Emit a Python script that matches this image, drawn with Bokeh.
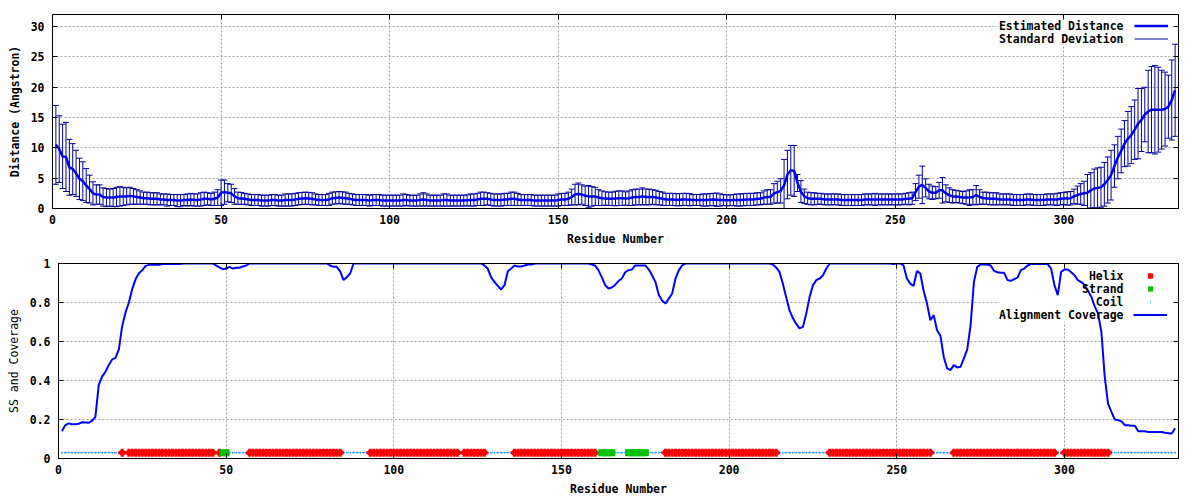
from bokeh.plotting import figure
from bokeh.models import (Range1d, FixedTicker, LinearAxis, Legend, LegendItem, Label,
                          BoxAnnotation, CustomJSTickFormatter, ColumnDataSource)
from bokeh.embed import file_html
from bokeh.resources import INLINE

# ---------------- data ----------------
residues = list(range(1, 334))

est_distance = [
    10.5, 9.8, 8.6, 8.5, 6.8, 6.5, 5.8, 4.9, 4.5, 3.8,
    3.2, 2.5, 2.3, 2.3, 1.9, 1.8, 1.8, 1.8, 1.9, 2.0,
    2.0, 2.0, 2.1, 2.0, 1.9, 1.8, 1.7, 1.7, 1.6, 1.6,
    1.6, 1.5, 1.5, 1.4, 1.4, 1.4, 1.3, 1.3, 1.4, 1.4,
    1.5, 1.4, 1.4, 1.5, 1.6, 1.6, 1.5, 1.6, 1.8, 2.6,
    2.7, 2.6, 2.5, 2.0, 1.7, 1.65, 1.6, 1.5, 1.4, 1.4,
    1.4, 1.3, 1.3, 1.3, 1.4, 1.4, 1.3, 1.3, 1.4, 1.4,
    1.4, 1.5, 1.6, 1.65, 1.7, 1.65, 1.6, 1.5, 1.4, 1.4,
    1.4, 1.5, 1.7, 1.75, 1.8, 1.75, 1.7, 1.6, 1.5, 1.4,
    1.4, 1.4, 1.4, 1.3, 1.4, 1.4, 1.4, 1.3, 1.3, 1.3,
    1.3, 1.3, 1.3, 1.4, 1.4, 1.3, 1.3, 1.3, 1.4, 1.5,
    1.4, 1.3, 1.3, 1.3, 1.3, 1.4, 1.4, 1.3, 1.3, 1.3,
    1.3, 1.3, 1.35, 1.4, 1.4, 1.5, 1.6, 1.6, 1.6, 1.5,
    1.4, 1.4, 1.4, 1.5, 1.5, 1.6, 1.6, 1.5, 1.4, 1.4,
    1.4, 1.4, 1.3, 1.3, 1.3, 1.3, 1.3, 1.3, 1.3, 1.4,
    1.5, 1.5, 1.6, 1.9, 2.3, 2.4, 2.3, 2.1, 2.0, 2.0,
    2.0, 1.8, 1.7, 1.65, 1.6, 1.6, 1.65, 1.7, 1.7, 1.65,
    1.7, 1.8, 1.9, 1.9, 2.0, 1.9, 1.9, 1.9, 1.8, 1.7,
    1.6, 1.5, 1.5, 1.5, 1.45, 1.45, 1.5, 1.5, 1.45, 1.4,
    1.4, 1.4, 1.4, 1.4, 1.45, 1.5, 1.45, 1.4, 1.4, 1.35,
    1.35, 1.4, 1.4, 1.4, 1.45, 1.5, 1.5, 1.5, 1.6, 1.6,
    1.8, 1.9, 1.9, 2.5, 2.7, 2.9, 3.8, 5.6, 6.3, 6.2,
    4.2, 2.8, 2.0, 1.7, 1.6, 1.6, 1.6, 1.6, 1.5, 1.5,
    1.5, 1.5, 1.5, 1.4, 1.4, 1.4, 1.4, 1.4, 1.4, 1.4,
    1.5, 1.5, 1.5, 1.5, 1.5, 1.5, 1.5, 1.5, 1.5, 1.5,
    1.5, 1.5, 1.6, 1.6, 1.7, 2.7, 3.6, 3.9, 3.4, 2.8,
    2.6, 2.6, 3.0, 3.0, 2.5, 2.2, 2.0, 2.0, 1.9, 1.8,
    1.8, 1.8, 1.9, 2.2, 1.9, 1.7, 1.7, 1.6, 1.6, 1.6,
    1.5, 1.5, 1.5, 1.5, 1.4, 1.4, 1.4, 1.4, 1.5, 1.5,
    1.4, 1.4, 1.4, 1.4, 1.5, 1.5, 1.5, 1.5, 1.6, 1.65,
    1.65, 1.7, 2.0, 2.2, 2.4, 2.5, 2.6, 3.0, 3.3, 3.4,
    3.5, 4.0, 4.7, 5.5, 7.0, 8.4, 9.5, 10.7, 11.5, 12.1,
    13.0, 14.0, 14.6, 15.5, 16.0, 16.3, 16.3, 16.3, 16.3, 16.4,
    16.8, 17.9, 19.5,
]

std_dev = [
    6.5, 5.5, 5.3, 5.7, 4.6, 4.2, 3.8, 3.4, 3.2, 2.8,
    2.3, 1.9, 1.6, 1.6, 1.5, 1.5, 1.4, 1.5, 1.6, 1.6,
    1.5, 1.4, 1.4, 1.3, 1.2, 1.1, 1.0, 1.0, 1.0, 1.0,
    1.0, 0.9, 0.9, 1.0, 0.9, 0.9, 1.0, 1.0, 0.9, 1.0,
    1.0, 1.0, 1.0, 1.1, 1.1, 1.0, 1.0, 1.1, 1.3, 2.1,
    2.0, 1.5, 1.5, 1.3, 1.0, 1.0, 0.9, 0.9, 0.9, 0.9,
    0.9, 0.9, 0.9, 0.9, 0.9, 0.9, 0.9, 0.9, 1.0, 1.0,
    1.0, 1.0, 1.0, 1.0, 1.0, 1.0, 1.0, 0.9, 0.9, 0.9,
    0.9, 1.0, 1.0, 1.0, 1.0, 1.0, 1.0, 0.9, 0.9, 0.9,
    0.9, 0.9, 0.9, 0.9, 0.9, 0.9, 0.9, 0.9, 0.9, 0.9,
    0.9, 0.9, 0.9, 1.0, 0.9, 0.9, 0.9, 0.9, 1.0, 1.1,
    1.0, 0.9, 0.9, 0.9, 0.9, 1.0, 1.0, 0.9, 0.9, 0.9,
    0.9, 0.9, 0.9, 1.0, 1.0, 1.0, 1.1, 1.1, 1.0, 1.0,
    1.0, 1.0, 1.0, 1.0, 1.0, 1.1, 1.1, 1.0, 0.9, 0.9,
    0.9, 0.9, 0.9, 0.9, 0.9, 0.9, 0.9, 0.9, 0.9, 1.0,
    1.0, 1.0, 1.1, 1.3, 1.7, 1.8, 1.6, 1.6, 1.8, 1.6,
    1.5, 1.3, 1.2, 1.1, 1.1, 1.1, 1.2, 1.2, 1.2, 1.1,
    1.2, 1.3, 1.3, 1.3, 1.4, 1.3, 1.3, 1.2, 1.2, 1.1,
    1.1, 1.0, 1.0, 1.0, 1.0, 1.0, 1.0, 1.0, 1.0, 0.9,
    0.9, 0.9, 1.0, 1.0, 1.0, 1.0, 1.1, 1.0, 0.9, 0.9,
    0.9, 0.9, 1.0, 1.0, 1.0, 1.0, 1.0, 1.0, 1.0, 1.0,
    1.1, 1.2, 1.2, 1.6, 1.8, 2.0, 4.3, 4.0, 4.1, 4.2,
    1.4, 1.8, 1.2, 1.0, 1.0, 1.0, 0.9, 0.9, 0.9, 0.9,
    0.9, 0.9, 0.9, 0.9, 0.9, 0.9, 0.9, 0.9, 0.9, 0.9,
    0.9, 0.9, 0.9, 1.0, 0.9, 0.9, 0.9, 0.9, 0.9, 0.9,
    0.9, 0.9, 0.9, 1.0, 1.0, 1.4, 1.9, 3.1, 1.5, 1.2,
    1.1, 1.0, 1.3, 2.1, 1.4, 1.2, 1.1, 1.0, 1.0, 1.0,
    1.1, 1.3, 1.2, 1.6, 1.2, 1.0, 1.0, 1.0, 1.0, 1.0,
    0.9, 0.9, 0.9, 0.9, 0.9, 0.9, 0.9, 0.9, 0.9, 0.9,
    0.9, 0.9, 0.9, 0.9, 0.9, 0.9, 0.9, 1.0, 1.0, 1.0,
    1.1, 1.1, 1.2, 1.5, 1.7, 2.0, 3.0, 2.9, 3.2, 3.3,
    3.3, 3.6, 3.8, 4.1, 3.5, 3.5, 3.6, 3.8, 4.5, 4.7,
    4.9, 5.8, 5.2, 4.5, 6.8, 7.1, 7.3, 7.0, 6.5, 6.1,
    5.2, 6.6, 7.6,
]

coverage = [
    0.14, 0.17, 0.18, 0.176, 0.176, 0.178, 0.186, 0.185, 0.183, 0.193,
    0.214, 0.376, 0.42, 0.444, 0.48, 0.508, 0.516, 0.56, 0.68, 0.75,
    0.80, 0.87, 0.92, 0.95, 0.966, 0.988, 0.993, 0.993, 0.993, 0.993,
    0.997, 0.997, 0.997, 0.997, 0.997, 0.997, 1.0, 1.0, 1.0, 1.0,
    1.0, 1.0, 1.0, 1.0, 1.0, 1.0, 0.99, 0.98, 0.971, 0.974,
    0.983, 0.974, 0.978, 0.978, 0.985, 0.99, 1.0, 1.0, 1.0, 1.0,
    1.0, 1.0, 1.0, 1.0, 1.0, 1.0, 1.0, 1.0, 1.0, 1.0,
    1.0, 1.0, 1.0, 1.0, 1.0, 1.0, 1.0, 1.0, 1.0, 1.0,
    0.99, 0.983, 0.983, 0.96, 0.915, 0.93, 0.95, 1.0, 1.0, 1.0,
    1.0, 1.0, 1.0, 1.0, 1.0, 1.0, 1.0, 1.0, 1.0, 1.0,
    1.0, 1.0, 1.0, 1.0, 1.0, 1.0, 1.0, 1.0, 1.0, 1.0,
    1.0, 1.0, 1.0, 1.0, 1.0, 1.0, 1.0, 1.0, 1.0, 1.0,
    1.0, 1.0, 1.0, 1.0, 1.0, 1.0, 0.99, 0.974, 0.93, 0.906,
    0.885, 0.867, 0.889, 0.96, 0.974, 0.99, 0.985, 0.985, 0.99, 0.995,
    0.995, 1.0, 1.0, 1.0, 1.0, 1.0, 1.0, 1.0, 1.0, 1.0,
    1.0, 1.0, 1.0, 1.0, 1.0, 1.0, 1.0, 1.0, 0.995, 0.99,
    0.966, 0.93, 0.89, 0.872, 0.877, 0.89, 0.91, 0.923, 0.955, 0.966,
    0.969, 0.99, 0.99, 0.99, 0.99, 0.97, 0.94, 0.906, 0.84, 0.81,
    0.795, 0.82, 0.846, 0.923, 0.966, 0.99, 1.0, 1.0, 1.0, 1.0,
    1.0, 1.0, 1.0, 1.0, 1.0, 1.0, 1.0, 1.0, 1.0, 1.0,
    1.0, 1.0, 1.0, 1.0, 1.0, 1.0, 1.0, 1.0, 1.0, 1.0,
    1.0, 1.0, 0.995, 0.98, 0.957, 0.897, 0.827, 0.76, 0.72, 0.69,
    0.667, 0.675, 0.744, 0.829, 0.889, 0.915, 0.923, 0.94, 0.974, 1.0,
    1.0, 1.0, 1.0, 1.0, 1.0, 1.0, 1.0, 1.0, 1.0, 1.0,
    1.0, 1.0, 1.0, 1.0, 1.0, 1.0, 1.0, 1.0, 0.997, 1.0,
    1.0, 0.99, 0.923, 0.897, 0.885, 0.962, 0.949, 0.86, 0.795, 0.709,
    0.735, 0.658, 0.63, 0.521, 0.462, 0.453, 0.479, 0.467, 0.47, 0.513,
    0.56, 0.684, 0.906, 0.983, 0.995, 0.995, 0.995, 0.99, 0.962, 0.955,
    0.952, 0.952, 0.915, 0.911, 0.92, 0.928, 0.966, 0.974, 0.99, 0.997,
    0.997, 0.997, 0.997, 0.997, 0.997, 0.974, 0.889, 0.838, 0.957, 0.969,
    0.969, 0.955, 0.94, 0.915, 0.905, 0.89, 0.86, 0.83, 0.78, 0.744,
    0.65, 0.42, 0.28, 0.239, 0.20, 0.197, 0.19, 0.171, 0.17, 0.168,
    0.168, 0.14, 0.14, 0.14, 0.136, 0.136, 0.136, 0.136, 0.136, 0.132,
    0.13, 0.128, 0.155,
]

# secondary structure: (first residue, last residue)
helix_segments = [(19, 19), (21, 46), (48, 48), (57, 84), (93, 119), (121, 127),
                  (136, 160), (181, 214), (230, 260), (267, 297), (300, 313)]
strand_segments = [(49, 50), (162, 165), (170, 175)]
ss_level = 0.03

x_ticks = [0, 50, 100, 150, 200, 250, 300]
dist_ticks = [0, 5, 10, 15, 20, 25, 30]
cov_ticks = [0, 0.2, 0.4, 0.6, 0.8, 1]

# ---------------- styling constants ----------------
FONT = "DejaVu Sans Mono"
FS = "11.5px"
LINE_BLUE = "#0000ee"
BAR_BLUE = "#00009c"
GRID = "#a0a0a0"
RED = "#ff0000"
GREEN = "#00c000"
COIL = "#1e90ff"

FW1, FH1 = 1126, 194
FW2, FH2 = 1120, 195
ROW = 13


def in_segments(r, segs):
    return any(a <= r <= b for a, b in segs)


helix_x = [r for r in residues if in_segments(r, helix_segments)]
strand_x = [r for r in residues if in_segments(r, strand_segments)]
coil_x = [r for r in residues if r not in helix_x and r not in strand_x]


def style_main_axes(p, xlabel, ylabel, ylabel_bold, x_std, y_std, x_lstd, y_lstd):
    xa, ya = p.below[0], p.left[0]
    for ax, lab, st, lst in ((xa, xlabel, x_std, x_lstd), (ya, ylabel, y_std, y_lstd)):
        ax.axis_label = lab
        ax.major_tick_in = 5
        ax.major_tick_out = 0
        ax.minor_tick_line_color = None
        ax.axis_line_color = "black"
        ax.major_tick_line_color = "black"
        ax.major_label_text_font = FONT
        ax.major_label_text_font_size = FS
        ax.major_label_text_font_style = "bold"
        ax.major_label_text_color = "black"
        ax.major_label_standoff = st
        ax.axis_label_text_font = FONT
        ax.axis_label_text_font_size = FS
        ax.axis_label_text_font_style = "bold"
        ax.axis_label_text_color = "black"
        ax.axis_label_standoff = lst
    ya.axis_label_text_font_style = "bold" if ylabel_bold else "normal"


def add_mirror(p, ticks, side):
    ax = LinearAxis(ticker=FixedTicker(ticks=ticks), major_tick_in=5, major_tick_out=0,
                    minor_tick_line_color=None, major_label_text_font_size="1px",
                    major_label_text_alpha=0, major_label_standoff=0,
                    axis_line_color="black", major_tick_line_color="black")
    p.add_layout(ax, side)


def style_grid(p, xt, yt):
    p.xgrid.ticker = FixedTicker(ticks=xt)
    p.ygrid.ticker = FixedTicker(ticks=yt)
    for g in (p.xgrid[0], p.ygrid[0]):
        g.grid_line_color = GRID
        g.grid_line_dash = "2 2"
        g.grid_line_width = 1


def glyph_legend(p, items, margin):
    leg = Legend(items=items, location="top_right", margin=margin, padding=0, spacing=0,
                 glyph_width=34, glyph_height=ROW, label_height=ROW, label_width=0,
                 label_standoff=5, label_text_font_size="8px", background_fill_alpha=0,
                 border_line_alpha=0)
    p.add_layout(leg)


def text_legend(p, texts, fw, fh, margin):
    for i, t in enumerate(texts):
        p.add_layout(Label(x=fw - 55, y=fh - (margin + ROW * (i + 0.5)),
                           x_units="screen", y_units="screen", text=t,
                           text_align="right", text_baseline="middle",
                           text_font=FONT, text_font_size=FS, text_font_style="bold",
                           text_color="black"))


# ---------------- top panel ----------------
p1 = figure(frame_width=FW1, frame_height=FH1, min_border_left=52, min_border_right=14,
            min_border_top=14, min_border_bottom=42,
            x_range=Range1d(0, 334), y_range=Range1d(0, 32),
            output_backend="svg", toolbar_location=None)
p1.outline_line_color = "black"
p1.xaxis.ticker = FixedTicker(ticks=x_ticks)
p1.yaxis.ticker = FixedTicker(ticks=dist_ticks)
style_main_axes(p1, "Residue Number", "Distance (Angstron)", True, 6, 8, 5, 6)
add_mirror(p1, x_ticks, "above")
add_mirror(p1, dist_ticks, "right")
style_grid(p1, x_ticks, dist_ticks)

p1.add_layout(BoxAnnotation(left=FW1 - 181, bottom=FH1 - 29, left_units="screen",
                            bottom_units="screen", fill_color="white", fill_alpha=1,
                            line_alpha=0, level="underlay"))

src = ColumnDataSource(dict(
    x=residues, d=est_distance,
    lo=[d - s for d, s in zip(est_distance, std_dev)],
    hi=[d + s for d, s in zip(est_distance, std_dev)],
))
stems = p1.segment(x0="x", y0="lo", x1="x", y1="hi", source=src, line_color=BAR_BLUE, line_width=1)
p1.scatter(x="x", y="hi", source=src, marker="dash", size=6, line_color=BAR_BLUE, line_width=1)
p1.scatter(x="x", y="lo", source=src, marker="dash", size=6, line_color=BAR_BLUE, line_width=1)
dist_line = p1.line(x="x", y="d", source=src, line_color=LINE_BLUE, line_width=2.5)
tick_mark = p1.scatter(x=[], y=[], marker="cross", size=6, line_color=BAR_BLUE, line_width=1)

glyph_legend(p1, [LegendItem(label=" ", renderers=[dist_line]),
                  LegendItem(label=" ", renderers=[stems, tick_mark])], 5)
text_legend(p1, ["Estimated Distance", "Standard Deviation"], FW1, FH1, 5)

# ---------------- bottom panel ----------------
p2 = figure(frame_width=FW2, frame_height=FH2, min_border_left=58, min_border_right=20,
            min_border_top=13, min_border_bottom=41,
            x_range=Range1d(0, 334), y_range=Range1d(0, 1),
            output_backend="svg", toolbar_location=None)
p2.outline_line_color = "black"
p2.xaxis.ticker = FixedTicker(ticks=x_ticks)
p2.yaxis.ticker = FixedTicker(ticks=cov_ticks)
p2.yaxis.formatter = CustomJSTickFormatter(code="return tick.toString();")
style_main_axes(p2, "Residue Number", "SS and Coverage", False, 6, 8, 5, 6)
add_mirror(p2, x_ticks, "above")
add_mirror(p2, cov_ticks, "right")
style_grid(p2, x_ticks, cov_ticks)

p2.add_layout(BoxAnnotation(left=FW2 - 179, bottom=FH2 - 58, left_units="screen",
                            bottom_units="screen", fill_color="white", fill_alpha=1,
                            line_alpha=0, level="underlay"))

p2.line(x=residues, y=[ss_level for _ in residues], line_color=COIL, line_width=1, line_dash="1 1")
coil_r = p2.scatter(x=coil_x, y=[ss_level for _ in coil_x], marker="dot", size=7, color=COIL)
helix_sq = p2.scatter(x=helix_x, y=[ss_level for _ in helix_x], marker="square", size=5,
                      fill_color=RED, line_color=None)
helix_pl = p2.scatter(x=helix_x, y=[ss_level for _ in helix_x], marker="plus", size=8,
                      fill_color=RED, line_color=None)
strand_r = p2.scatter(x=strand_x, y=[ss_level for _ in strand_x], marker="square", size=7,
                      fill_color=GREEN, line_color=None)
cov_line = p2.line(x=residues, y=coverage, line_color="#0000ff", line_width=2)

glyph_legend(p2, [LegendItem(label=" ", renderers=[helix_sq, helix_pl]),
                  LegendItem(label=" ", renderers=[strand_r]),
                  LegendItem(label=" ", renderers=[coil_r]),
                  LegendItem(label=" ", renderers=[cov_line])], 6)
text_legend(p2, ["Helix", "Strand", "Coil", "Alignment Coverage"], FW2, FH2, 6)

# two independent roots, stacked, so each panel keeps its own frame position
open("out.html", "w").write(file_html([p1, p2], INLINE))
